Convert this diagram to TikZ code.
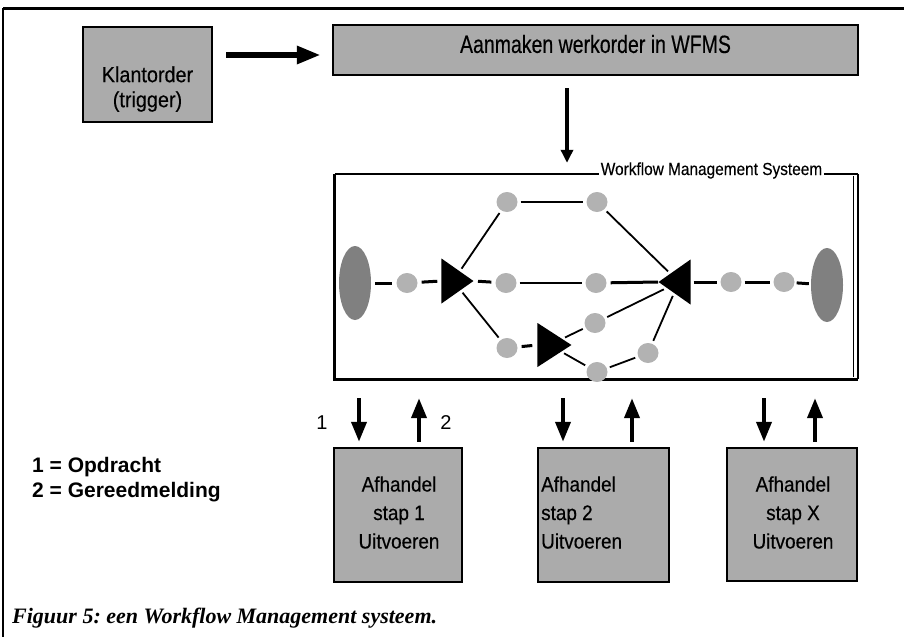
\documentclass[tikz,border=0pt]{standalone}
\usepackage{fontspec}
\setmainfont{Liberation Serif}
\setsansfont{Liberation Sans}
\newfontfamily\narrowA[FakeStretch=0.78,FakeBold=0.3]{Liberation Sans}
\newfontfamily\narrowB[FakeStretch=0.9,FakeBold=0.3]{Liberation Sans}
\newfontfamily\narrowC[FakeStretch=0.88,FakeBold=0.3]{Liberation Sans}
\usetikzlibrary{shapes.geometric,arrows.meta}

\definecolor{boxgray}{gray}{0.67}
\definecolor{dotgray}{gray}{0.70}
\definecolor{ovalgray}{gray}{0.50}

\begin{document}
\frenchspacing
\begin{tikzpicture}[x=1pt,y=-1pt,
  grbox/.style={draw=black,line width=2.5pt,fill=boxgray,inner sep=0pt},
  dot/.style={ellipse,fill=dotgray,minimum width=21pt,minimum height=20pt,inner sep=0pt},
  bigoval/.style={ellipse,fill=ovalgray,minimum width=32pt,minimum height=74pt,inner sep=0pt},
  tri/.style={isosceles triangle,isosceles triangle stretches,fill=black,inner sep=0pt,
              minimum width=45pt,minimum height=32pt},
  flowdash/.style={line width=3pt,shorten <=4pt,shorten >=4pt},
  link/.style={line width=1.8pt,shorten <=3pt,shorten >=3pt},
  fatarrow/.style={line width=6pt,-{Triangle[length=24pt,width=17pt]}},
  downarrow/.style={line width=3.5pt,-{Triangle[length=13pt,width=12pt]}},
  steparrow/.style={line width=4pt,-{Triangle[length=20pt,width=15pt]}},
  boxtext/.style={inner sep=0pt,align=center},
]
\useasboundingbox (0,0) rectangle (904,637);

% outer frame (top and left rule)
\coordinate (frameTL) at (3,8);
\coordinate (frameTR) at (904,8);
\coordinate (frameBL) at (3,637);
\draw[line width=3pt] (frameTL) -- (frameTR);
\draw[line width=2pt] (frameTL) -- (frameBL);

% trigger and work order boxes
\node[grbox,minimum width=129pt,minimum height=95pt] (klant) at (147.5,74.5) {};
\node[boxtext,font=\narrowB\fontsize{22}{25}\selectfont] (klanttxt) at (147.5,89) {Klantorder\\(trigger)};
\node[grbox,minimum width=525pt,minimum height=50pt] (aan) at (595.5,50) {};
\node[boxtext,font=\narrowA\fontsize{25}{28}\selectfont] (aantxt) at (595.5,44) {Aanmaken werkorder in WFMS};

\coordinate (kA) at ([yshift=-5pt]aan.west);
\draw[fatarrow,shorten <=13pt,shorten >=11pt] (klant.east |- kA) -- (kA);

% workflow management system frame
\node[minimum width=523pt,minimum height=205pt,inner sep=0pt] (wfms) at (596.5,276.5) {};
\node[anchor=base,inner sep=1.5pt,font=\narrowC\fontsize{17.5}{20}\selectfont] (wfmslabel) at (711.5,175) {Workflow Management Systeem};
\draw[line width=2.5pt] (wfms.north west) -- (wfms.north west -| wfmslabel.west);
\draw[line width=2.5pt] (wfms.north east -| wfmslabel.east) -- (wfms.north east);
\draw[line width=3pt] (wfms.north west) -- (wfms.south west) -- (wfms.south east);
\draw[line width=2.5pt] (wfms.north east) -- (wfms.south east);
\draw[line width=1.2pt] ([xshift=-5pt,yshift=-2pt]wfms.north east) -- ([xshift=-5pt,yshift=2pt]wfms.south east);

\coordinate (aanOut) at ([xshift=-28.5pt]aan.south);
\draw[downarrow,shorten <=12pt,shorten >=11pt] (aanOut) -- (aanOut |- wfms.north);

% process network
\node[bigoval] (ellL) at (355,283) {};
\node[dot] (c1) at (407,283) {};
\node[tri,anchor=apex] (tri1) at (474,281) {};
\node[dot] (c2) at (506,283) {};
\node[dot] (c3) at (596,283) {};
\node[tri,shape border rotate=180,anchor=apex] (triR) at (658,282) {};
\node[dot] (c4) at (731,282) {};
\node[dot] (c5) at (784,282) {};
\node[bigoval] (ellR) at (827,285) {};
\node[dot] (ct1) at (507,202) {};
\node[dot] (ct2) at (597,202) {};
\node[dot] (cb1) at (507,348) {};
\node[tri,anchor=apex,minimum width=44pt,minimum height=34pt] (tri2) at (572,345) {};
\node[dot] (cm) at (595,323) {};
\node[dot] (cb2) at (597,372) {};
\node[dot] (cb3) at (648,353) {};

\draw[flowdash] (ellL) -- (c1);
\draw[flowdash] (c1) -- (tri1.west);
\draw[flowdash] (tri1.apex) -- (c2);
\draw[link,line width=2pt] (c2) -- (c3);
\draw[flowdash,shorten >=0pt] (c3) -- (triR.apex);
\draw[flowdash,shorten <=3pt,shorten >=3pt] (triR.east) -- (c4);
\draw[flowdash,shorten <=3pt,shorten >=3pt] (c4) -- (c5);
\draw[flowdash,shorten <=2pt,shorten >=2pt] (c5) -- (ellR);

\draw[link] (tri1) -- (ct1);
\draw[link] (ct1) -- (ct2);
\draw[link] (ct2) -- (triR);
\draw[link] (tri1) -- (cb1);
\draw[flowdash,shorten >=5pt] (cb1) -- (tri2.west);
\draw[link] (tri2) -- (cm);
\draw[link] (cm) -- (triR);
\draw[link] (tri2) -- (cb2);
\draw[link] (cb2) -- (cb3);
\draw[link] (cb3) -- (triR);

% execution steps
\node[grbox,minimum width=128pt,minimum height=134pt] (s1) at (398,515) {};
\node[grbox,minimum width=131pt,minimum height=134pt] (s2) at (603.5,515) {};
\node[grbox,minimum width=130pt,minimum height=133pt] (sX) at (792,514.5) {};
\node[boxtext,font=\narrowB\fontsize{21}{28.5}\selectfont] (s1txt) at (399,512.5) {Afhandel\\stap 1\\Uitvoeren};
\node[boxtext,align=left,anchor=west,font=\narrowB\fontsize{21}{28.5}\selectfont] (s2txt) at (541,512.5) {Afhandel\\stap 2\\Uitvoeren};
\node[boxtext,font=\narrowB\fontsize{21}{28.5}\selectfont] (sXtxt) at (793,512.5) {Afhandel\\stap X\\Uitvoeren};

\draw[steparrow,shorten <=19pt,shorten >=5pt] ([xshift=-39pt]s1.north |- wfms.south) -- ([xshift=-39pt]s1.north);
\draw[steparrow,shorten <=5pt,shorten >=19pt] ([xshift=21pt]s1.north) -- ([xshift=21pt]s1.north |- wfms.south);
\draw[steparrow,shorten <=19pt,shorten >=5pt] ([xshift=-40.5pt]s2.north |- wfms.south) -- ([xshift=-40.5pt]s2.north);
\draw[steparrow,shorten <=5pt,shorten >=19pt] ([xshift=28.5pt]s2.north) -- ([xshift=28.5pt]s2.north |- wfms.south);
\draw[steparrow,shorten <=19pt,shorten >=5pt] ([xshift=-28pt]sX.north |- wfms.south) -- ([xshift=-28pt]sX.north);
\draw[steparrow,shorten <=5pt,shorten >=19pt] ([xshift=23pt]sX.north) -- ([xshift=23pt]sX.north |- wfms.south);

\node[anchor=base,inner sep=0pt,font=\sffamily\fontsize{20}{24}\selectfont] (lab1) at (322,429) {1};
\node[anchor=base,inner sep=0pt,font=\sffamily\fontsize{20}{24}\selectfont] (lab2) at (446,429) {2};

% legend and caption
\node[anchor=base west,inner sep=0pt,font=\sffamily\bfseries\fontsize{21}{25}\selectfont] (leg1) at (32,472) {1 = Opdracht};
\node[anchor=base west,inner sep=0pt,font=\sffamily\bfseries\fontsize{21}{25}\selectfont] (leg2) at (32,497) {2 = Gereedmelding};
\node[anchor=base west,inner sep=0pt,font=\bfseries\itshape\fontsize{22}{26}\selectfont] (caption) at (12,623) {Figuur 5: een Workflow Management systeem.};
\end{tikzpicture}
\end{document}
